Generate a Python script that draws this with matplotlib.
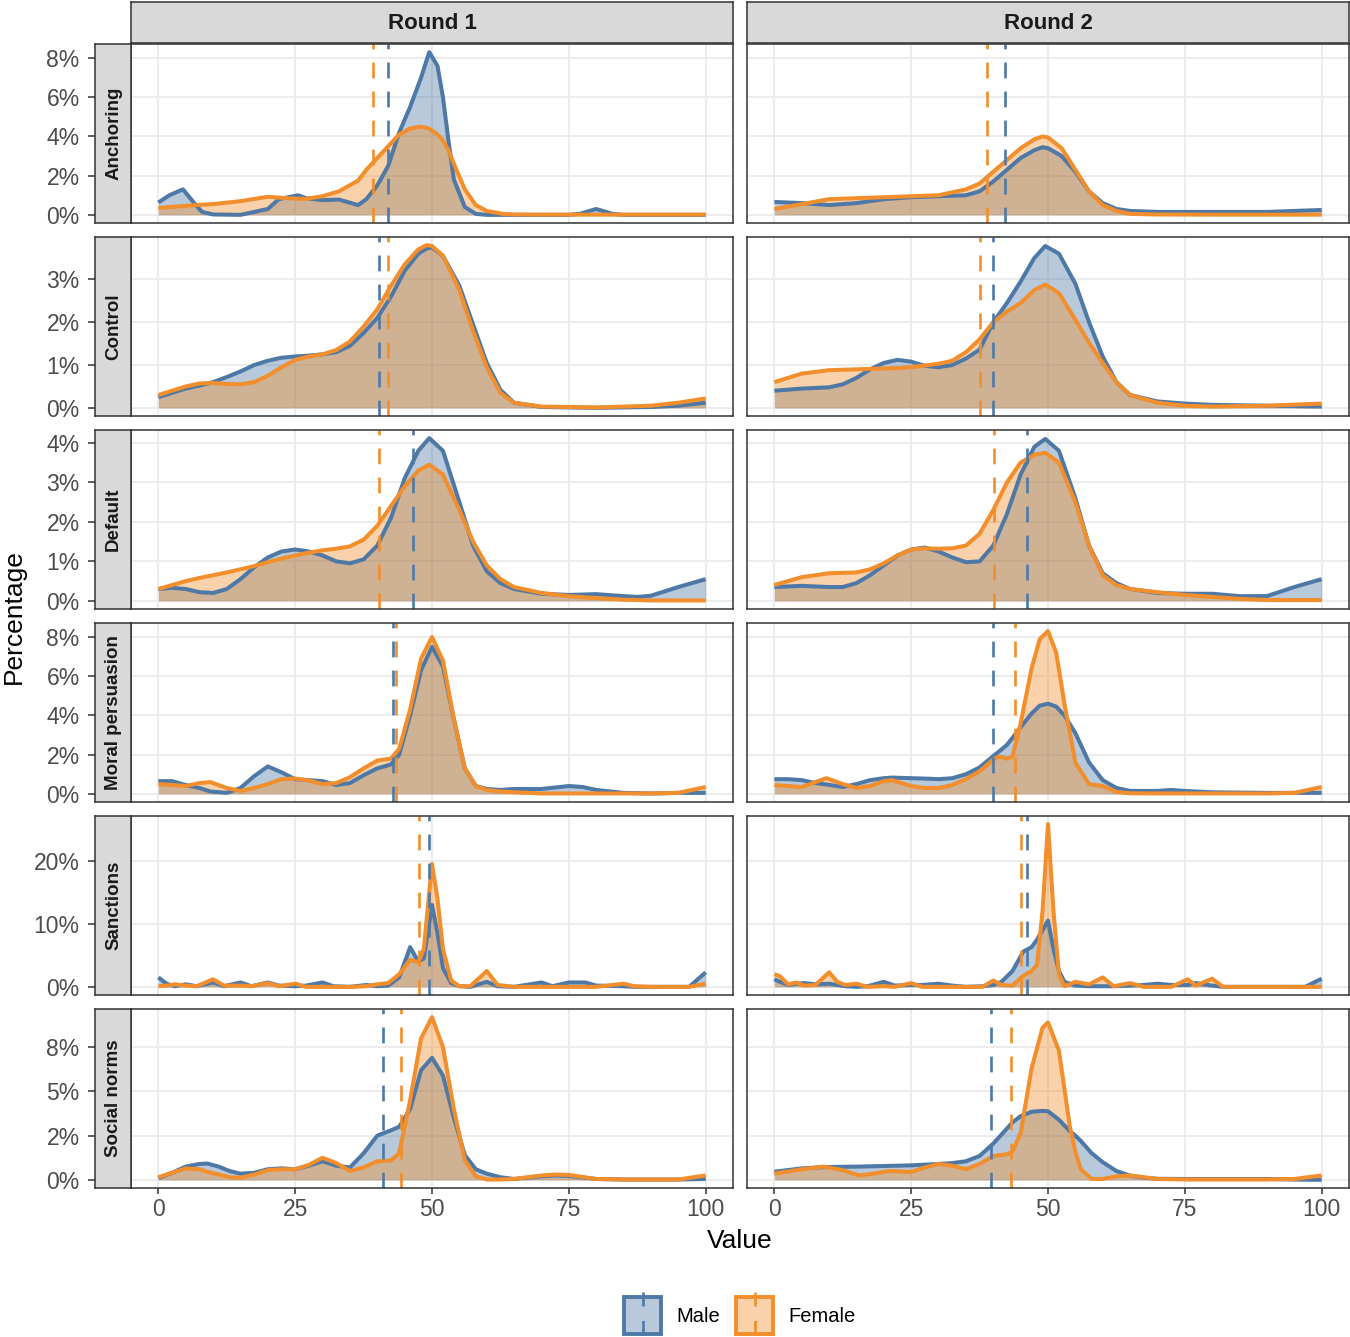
import numpy as np
import matplotlib
matplotlib.use("Agg")
import matplotlib.pyplot as plt
from matplotlib.patches import Rectangle

plt.rcParams['font.family'] = ['Liberation Sans', 'DejaVu Sans']

MALE = "#4E79A7"
FEMALE = "#F28E2B"

rows = ["Anchoring", "Control", "Default", "Moral persuasion", "Sanctions", "Social norms"]
rounds = ["Round 1", "Round 2"]

# ---- density curves, percent ----
anch_r1_x = [0, 2, 4.5, 7, 8, 10, 15, 20, 22, 25.5, 27, 30, 33, 36.5, 38, 40, 42, 44, 46, 48, 49.5, 51, 52, 53, 54, 56, 58, 60, 63, 65, 70, 75, 77, 80, 83, 85, 90, 100]
anch_r1_male = [0.63, 1.0, 1.3, 0.45, 0.15, 0.02, 0.0, 0.3, 0.8, 1.0, 0.85, 0.75, 0.78, 0.5, 0.8, 1.5, 2.5, 4.2, 5.5, 7.0, 8.3, 7.6, 6.0, 3.8, 1.8, 0.4, 0.05, 0.0, 0.0, 0.0, 0.0, 0.0, 0.05, 0.3, 0.05, 0.0, 0.0, 0.0]
anch_r1_female = [0.35, 0.4, 0.45, 0.5, 0.52, 0.55, 0.7, 0.92, 0.88, 0.82, 0.82, 0.95, 1.2, 1.75, 2.3, 2.9, 3.5, 4.1, 4.4, 4.5, 4.4, 4.1, 3.8, 3.3, 2.6, 1.3, 0.5, 0.2, 0.05, 0.02, 0.01, 0.01, 0.01, 0.01, 0.01, 0.01, 0.01, 0.01]

anch_r2_x = [0, 5, 10, 15, 20, 25, 30, 35, 37.5, 40, 42.5, 45, 47.5, 49, 50, 52.5, 55, 57.5, 60, 62.5, 65, 70, 80, 90, 100]
anch_r2_male = [0.66, 0.6, 0.5, 0.6, 0.8, 0.9, 0.95, 1.0, 1.2, 1.7, 2.3, 2.9, 3.3, 3.45, 3.4, 3.0, 2.2, 1.2, 0.6, 0.3, 0.2, 0.15, 0.15, 0.15, 0.25]
anch_r2_female = [0.3, 0.55, 0.8, 0.85, 0.9, 0.95, 1.0, 1.3, 1.6, 2.2, 2.8, 3.4, 3.85, 4.0, 3.95, 3.4, 2.3, 1.2, 0.5, 0.2, 0.05, 0.02, 0.01, 0.01, 0.01]

ctrl_r1_x = [0, 5, 7.5, 10, 12.5, 15, 17.5, 20, 22.5, 25, 27.5, 30, 32.5, 35, 37.5, 40, 42.5, 45, 47.5, 49, 50, 52, 55, 57.5, 60, 62.5, 65, 70, 80, 90, 95, 100]
ctrl_r1_male = [0.25, 0.45, 0.52, 0.6, 0.72, 0.85, 1.0, 1.1, 1.17, 1.2, 1.22, 1.25, 1.3, 1.45, 1.75, 2.1, 2.6, 3.2, 3.6, 3.72, 3.75, 3.55, 2.85, 1.95, 1.05, 0.42, 0.12, 0.02, 0.0, 0.02, 0.05, 0.12]
ctrl_r1_female = [0.3, 0.5, 0.57, 0.58, 0.56, 0.55, 0.6, 0.75, 0.95, 1.12, 1.2, 1.25, 1.35, 1.55, 1.9, 2.3, 2.85, 3.35, 3.7, 3.8, 3.78, 3.55, 2.75, 1.8, 0.95, 0.35, 0.12, 0.03, 0.01, 0.05, 0.12, 0.22]

ctrl_r2_x = [0, 5, 10, 12.5, 15, 17.5, 20, 22.5, 25, 27.5, 30, 32.5, 35, 37.5, 40, 42.5, 45, 47.5, 49.5, 52, 55, 57.5, 60, 62.5, 65, 70, 75, 80, 90, 100]
ctrl_r2_male = [0.4, 0.45, 0.48, 0.55, 0.7, 0.9, 1.05, 1.12, 1.08, 0.98, 0.95, 1.0, 1.15, 1.36, 2.0, 2.45, 2.95, 3.5, 3.78, 3.6, 2.9, 2.0, 1.2, 0.6, 0.3, 0.15, 0.1, 0.07, 0.05, 0.03]
ctrl_r2_female = [0.6, 0.8, 0.88, 0.89, 0.9, 0.91, 0.92, 0.93, 0.95, 0.99, 1.03, 1.1, 1.3, 1.6, 2.0, 2.25, 2.45, 2.75, 2.88, 2.68, 2.06, 1.52, 1.05, 0.6, 0.3, 0.12, 0.05, 0.03, 0.05, 0.1]

dflt_r1_x = [0, 2.5, 5, 7.5, 10, 12.5, 15, 17.5, 20, 22.5, 25, 27.5, 30, 32.5, 35, 37.5, 40, 42.5, 45, 47.5, 49.5, 52, 55, 57.5, 60, 62.5, 65, 70, 75, 80, 85, 87.5, 90, 95, 100]
dflt_r1_male = [0.3, 0.33, 0.3, 0.22, 0.2, 0.3, 0.55, 0.85, 1.1, 1.25, 1.3, 1.25, 1.15, 1.0, 0.95, 1.05, 1.4, 2.1, 3.1, 3.8, 4.12, 3.8, 2.5, 1.4, 0.75, 0.45, 0.3, 0.18, 0.15, 0.17, 0.12, 0.1, 0.13, 0.35, 0.55]
dflt_r1_female = [0.3, 0.4, 0.5, 0.58, 0.65, 0.72, 0.8, 0.88, 0.98, 1.07, 1.15, 1.22, 1.28, 1.32, 1.38, 1.55, 1.9, 2.4, 2.9, 3.3, 3.45, 3.2, 2.3, 1.5, 0.9, 0.55, 0.35, 0.2, 0.12, 0.07, 0.03, 0.02, 0.01, 0.01, 0.01]

dflt_r2_x = [0, 5, 10, 12.5, 15, 17.5, 20, 22.5, 25, 27.5, 30, 32.5, 35, 37.5, 40, 42.5, 45, 47.5, 49.5, 52, 55, 57.5, 60, 62.5, 65, 70, 75, 80, 85, 90, 95, 100]
dflt_r2_male = [0.35, 0.38, 0.35, 0.35, 0.45, 0.65, 0.9, 1.15, 1.3, 1.35, 1.25, 1.1, 0.98, 1.0, 1.4, 2.2, 3.2, 3.9, 4.1, 3.8, 2.6, 1.4, 0.7, 0.45, 0.3, 0.2, 0.18, 0.18, 0.12, 0.12, 0.35, 0.55]
dflt_r2_female = [0.4, 0.6, 0.7, 0.71, 0.72, 0.8, 0.95, 1.15, 1.3, 1.33, 1.32, 1.33, 1.4, 1.7, 2.3, 3.0, 3.5, 3.7, 3.75, 3.5, 2.5, 1.4, 0.65, 0.4, 0.3, 0.22, 0.15, 0.1, 0.05, 0.02, 0.02, 0.02]

moral_r1_x = [0, 2.5, 5, 7.5, 9.5, 12.5, 15, 17.5, 20, 22.5, 25, 27.5, 30, 32.5, 35, 37.5, 40, 42.5, 44, 46, 48, 50, 52, 54, 56, 58, 60, 62.5, 65, 70, 75, 77.5, 80, 85, 90, 95, 100]
moral_r1_male = [0.65, 0.65, 0.45, 0.3, 0.12, 0.05, 0.3, 0.9, 1.4, 1.1, 0.75, 0.7, 0.65, 0.45, 0.55, 0.95, 1.3, 1.5, 2.0, 4.0, 6.3, 7.5, 6.5, 3.8, 1.3, 0.4, 0.25, 0.2, 0.25, 0.25, 0.4, 0.35, 0.2, 0.05, 0.02, 0.05, 0.05]
moral_r1_female = [0.5, 0.45, 0.4, 0.55, 0.6, 0.3, 0.15, 0.3, 0.5, 0.75, 0.78, 0.68, 0.5, 0.55, 0.85, 1.3, 1.7, 1.8, 2.3, 4.3, 6.9, 8.0, 6.8, 3.8, 1.3, 0.4, 0.2, 0.12, 0.08, 0.02, 0.02, 0.02, 0.02, 0.02, 0.02, 0.05, 0.35]

moral_r2_x = [0, 2.5, 5, 7.5, 9.5, 12.5, 15, 17.5, 20, 21.5, 25, 27.5, 30, 32.5, 35, 37.5, 40, 41, 42.5, 43.5, 45, 47, 48.5, 50, 51.5, 53, 55, 57.5, 60, 62.5, 65, 70, 72.5, 75, 80, 90, 95, 100]
moral_r2_male = [0.75, 0.75, 0.7, 0.55, 0.48, 0.35, 0.5, 0.7, 0.8, 0.83, 0.8, 0.78, 0.75, 0.8, 1.0, 1.35, 1.93, 2.15, 2.5, 2.85, 3.4, 4.1, 4.5, 4.6, 4.45, 4.0, 3.1, 1.6, 0.7, 0.3, 0.15, 0.15, 0.2, 0.15, 0.08, 0.05, 0.05, 0.05]
moral_r2_female = [0.45, 0.4, 0.35, 0.6, 0.8, 0.5, 0.3, 0.4, 0.65, 0.7, 0.4, 0.3, 0.3, 0.45, 0.75, 1.15, 1.75, 1.9, 1.8, 1.9, 3.6, 6.4, 7.9, 8.3, 7.2, 4.6, 1.6, 0.5, 0.4, 0.1, 0.03, 0.02, 0.02, 0.02, 0.02, 0.02, 0.05, 0.35]

sanc_r1_x = [0, 1.5, 3, 5, 7, 10, 12, 15, 17, 20, 22, 25, 27, 30, 32, 35, 38, 40, 42, 44, 46, 47.5, 48.5, 50, 51, 52, 53.5, 55, 57, 60, 62, 65, 70, 72, 75, 78, 80, 85, 87, 90, 97, 100]
sanc_r1_male = [1.5, 0.5, 0.1, 0.4, 0.1, 0.7, 0.1, 0.7, 0.1, 0.7, 0.2, 0.1, 0.2, 0.7, 0.1, 0.0, 0.3, 0.1, 0.2, 1.5, 6.3, 4.0, 4.5, 13.0, 8.5, 3.0, 0.6, 0.1, 0.0, 0.8, 0.1, 0.0, 0.7, 0.1, 0.7, 0.7, 0.2, 0.1, 0.0, 0.0, 0.0, 2.3]
sanc_r1_female = [0.1, 0.2, 0.4, 0.2, 0.1, 1.2, 0.2, 0.2, 0.1, 0.6, 0.1, 0.5, 0.0, 0.0, 0.0, 0.0, 0.1, 0.4, 0.6, 2.0, 4.3, 3.9, 6.0, 19.5, 14.0, 6.0, 1.0, 0.1, 0.1, 2.5, 0.3, 0.0, 0.0, 0.0, 0.0, 0.0, 0.0, 0.5, 0.1, 0.0, 0.0, 0.5]

sanc_r2_x = [0, 1, 2.5, 4, 5.5, 7.5, 10, 11.5, 13, 15, 17, 20, 22, 25, 27, 30, 32.5, 35, 38, 40, 41.5, 43.5, 45.5, 47, 48, 49, 50, 51, 52, 53, 55, 57.5, 60, 62, 65, 67.5, 70, 72.5, 75.5, 77, 80, 82, 85, 90, 97, 100]
sanc_r2_male = [1.2, 0.8, 0.3, 0.5, 0.6, 0.4, 0.5, 0.3, 0.1, 0.0, 0.1, 0.8, 0.2, 0.3, 0.3, 0.5, 0.2, 0.0, 0.1, 0.3, 0.8, 2.5, 5.6, 6.3, 7.5, 9.0, 10.5, 6.0, 2.5, 0.8, 0.2, 0.1, 0.1, 0.1, 0.2, 0.3, 0.5, 0.3, 0.3, 0.6, 0.2, 0.0, 0.0, 0.0, 0.0, 1.3]
sanc_r2_female = [2.0, 1.7, 0.4, 0.7, 0.2, 0.3, 2.3, 0.8, 0.3, 0.5, 0.0, 0.1, 0.0, 0.6, 0.0, 0.0, 0.0, 0.0, 0.0, 1.0, 0.3, 0.2, 1.8, 2.5, 3.5, 12.0, 25.8, 12.0, 2.0, 0.1, 0.8, 0.4, 1.5, 0.1, 0.6, 0.0, 0.0, 0.0, 1.2, 0.2, 1.3, 0.0, 0.0, 0.0, 0.0, 0.0]

soc_r1_x = [0, 2.5, 5, 7.5, 9, 11, 13, 15, 17.5, 20, 22.5, 25, 27.5, 30, 32.5, 35, 37.5, 40, 42.5, 44, 46, 48, 50, 52, 54, 56, 58, 60, 62.5, 65, 70, 72.5, 75, 80, 85, 90, 95, 100]
soc_r1_male = [0.1, 0.4, 0.75, 0.9, 0.92, 0.75, 0.5, 0.35, 0.4, 0.6, 0.65, 0.6, 0.8, 1.05, 0.8, 0.7, 1.5, 2.5, 2.8, 3.0, 4.0, 6.2, 6.9, 5.9, 3.5, 1.4, 0.6, 0.35, 0.15, 0.05, 0.2, 0.25, 0.22, 0.05, 0.02, 0.02, 0.02, 0.05]
soc_r1_female = [0.15, 0.4, 0.65, 0.6, 0.45, 0.3, 0.15, 0.12, 0.3, 0.55, 0.6, 0.6, 0.85, 1.25, 0.95, 0.5, 0.7, 1.05, 1.1, 1.5, 4.5, 8.0, 9.2, 7.5, 4.0, 1.1, 0.2, 0.02, 0.02, 0.05, 0.25, 0.3, 0.28, 0.05, 0.02, 0.02, 0.02, 0.25]

soc_r2_x = [0, 5, 9, 12.5, 15.5, 18, 21, 25, 27.5, 30, 32.5, 35, 37.5, 40, 42.5, 43.5, 45, 47, 49, 50, 52, 54, 55, 56, 58, 60, 62.5, 65, 67.5, 70, 75, 80, 90, 95, 100]
soc_r2_male = [0.46, 0.65, 0.72, 0.74, 0.75, 0.77, 0.79, 0.82, 0.86, 0.9, 0.95, 1.05, 1.35, 2.05, 2.9, 3.25, 3.6, 3.85, 3.9, 3.88, 3.4, 2.75, 2.5, 2.2, 1.5, 1.0, 0.5, 0.24, 0.12, 0.06, 0.05, 0.05, 0.05, 0.02, 0.0]
soc_r2_female = [0.35, 0.6, 0.75, 0.55, 0.25, 0.35, 0.5, 0.45, 0.7, 0.9, 0.8, 0.6, 0.9, 1.35, 1.45, 1.6, 2.65, 6.3, 8.6, 8.9, 7.3, 3.0, 1.6, 0.6, 0.05, 0.05, 0.2, 0.25, 0.15, 0.05, 0.02, 0.02, 0.02, 0.05, 0.25]

# group means (dashed lines), one per row
mean_r1_male = [42.0, 40.4, 46.6, 42.9, 49.4, 41.0]
mean_r1_female = [39.2, 41.9, 40.4, 43.4, 47.6, 44.4]
mean_r2_male = [42.2, 40.0, 46.1, 40.0, 46.1, 39.5]
mean_r2_female = [38.9, 37.5, 40.1, 43.9, 45.1, 43.3]

ytick_vals = [[0, 2, 4, 6, 8], [0, 1, 2, 3], [0, 1, 2, 3, 4], [0, 2, 4, 6, 8], [0, 10, 20], [0, 2.5, 5, 7.5]]
ytick_labels = [["0%", "2%", "4%", "6%", "8%"], ["0%", "1%", "2%", "3%"], ["0%", "1%", "2%", "3%", "4%"],
                ["0%", "2%", "4%", "6%", "8%"], ["0%", "10%", "20%"], ["0%", "2%", "5%", "8%"]]
xtick_vals = [0, 25, 50, 75, 100]

curves = [
    [(anch_r1_x, anch_r1_male, anch_r1_female), (anch_r2_x, anch_r2_male, anch_r2_female)],
    [(ctrl_r1_x, ctrl_r1_male, ctrl_r1_female), (ctrl_r2_x, ctrl_r2_male, ctrl_r2_female)],
    [(dflt_r1_x, dflt_r1_male, dflt_r1_female), (dflt_r2_x, dflt_r2_male, dflt_r2_female)],
    [(moral_r1_x, moral_r1_male, moral_r1_female), (moral_r2_x, moral_r2_male, moral_r2_female)],
    [(sanc_r1_x, sanc_r1_male, sanc_r1_female), (sanc_r2_x, sanc_r2_male, sanc_r2_female)],
    [(soc_r1_x, soc_r1_male, soc_r1_female), (soc_r2_x, soc_r2_male, soc_r2_female)],
]
means = [(mean_r1_male, mean_r1_female), (mean_r2_male, mean_r2_female)]

# ---- layout (pixels) ----
W, H = 1350, 1337
fig = plt.figure(figsize=(W / 100, H / 100), dpi=100)


def box(l, t, r, b):
    return [l / W, 1 - b / H, (r - l) / W, (b - t) / H]


col_left = [131, 747]
panel_w = 602
row_top = [44, 237, 430, 623, 816, 1009]
panel_h = 179
strip_l = 95
DARK = "#333333"
TXT = "#4D4D4D"
DASH = (0, (6, 5))
LW = 2.9

for j, rnd in enumerate(rounds):
    sax = fig.add_axes(box(col_left[j], 2, col_left[j] + panel_w, 43))
    sax.set_facecolor("#D9D9D9")
    sax.set_xticks([])
    sax.set_yticks([])
    for s in sax.spines.values():
        s.set_color(DARK)
        s.set_linewidth(1.1)
    sax.text(0.5, 0.48, rnd, ha="center", va="center", fontsize=16, fontweight="bold",
             color="#1A1A1A", transform=sax.transAxes)

for i, row in enumerate(rows):
    ymax = max(max(curves[i][0][1]), max(curves[i][0][2]), max(curves[i][1][1]), max(curves[i][1][2]))
    ylim = (-0.05 * ymax, 1.05 * ymax)
    t = row_top[i]
    for j in range(2):
        x, male, female = curves[i][j]
        ax = fig.add_axes(box(col_left[j], t, col_left[j] + panel_w, t + panel_h))
        ax.set_xlim(-5, 105)
        ax.set_ylim(*ylim)
        ax.set_xticks(xtick_vals)
        ax.set_yticks(ytick_vals[i])
        ax.grid(True, color="#EBEBEB", lw=1.3)
        ax.set_axisbelow(True)
        ax.tick_params(axis="y", left=False, labelleft=False)
        if i == len(rows) - 1:
            ax.tick_params(axis="x", length=4.5, width=1.1, color=DARK, labelsize=16.5,
                           labelcolor=TXT, pad=3)
        else:
            ax.tick_params(axis="x", bottom=False, labelbottom=False)
        for s in ax.spines.values():
            s.set_color(DARK)
            s.set_linewidth(1.1)

        ax.fill_between(x, 0, male, color=MALE, alpha=0.4, lw=0)
        ax.plot(x, male, color=MALE, lw=LW, solid_joinstyle="round", solid_capstyle="butt")
        ax.fill_between(x, 0, female, color=FEMALE, alpha=0.4, lw=0)
        ax.plot(x, female, color=FEMALE, lw=LW, solid_joinstyle="round", solid_capstyle="butt")

        ax.axvline(means[j][0][i], color=MALE, lw=1.9, ls=DASH)
        ax.axvline(means[j][1][i], color=FEMALE, lw=1.9, ls=DASH)

    # left strip carrying the y axis
    lax = fig.add_axes(box(strip_l, t, col_left[0], t + panel_h))
    lax.set_facecolor("#D9D9D9")
    lax.set_ylim(*ylim)
    lax.set_xticks([])
    lax.set_yticks(ytick_vals[i])
    lax.set_yticklabels(ytick_labels[i])
    lax.tick_params(axis="y", length=5, width=1.1, color=DARK, labelsize=16.5, labelcolor=TXT, pad=6)
    for s in lax.spines.values():
        s.set_color(DARK)
        s.set_linewidth(1.1)
    lax.text(0.52, 0.5, row, rotation=90, ha="center", va="center", fontsize=13.5,
             fontweight="bold", color="#1A1A1A", transform=lax.transAxes)

# overlay for titles and legend
ov = fig.add_axes([0, 0, 1, 1])
ov.set_xlim(0, W)
ov.set_ylim(H, 0)
ov.axis("off")
ov.patch.set_alpha(0)
ov.text(14, 617, "Percentage", rotation=90, ha="center", va="center", fontsize=19)
ov.text(740, 1241, "Value", ha="center", va="center", fontsize=19)

for k, (lab, col) in enumerate([("Male", MALE), ("Female", FEMALE)]):
    kx = 624 + k * 112
    ov.add_patch(Rectangle((kx, 1297), 37, 37, facecolor=col, alpha=0.4, lw=0))
    ov.add_patch(Rectangle((kx, 1297), 37, 37, facecolor="none", edgecolor=col, lw=2.8))
    ov.plot([kx + 18.5, kx + 18.5], [1335, 1292], color=col, lw=1.9, ls=(0, (5.5, 5.5)))
    ov.text(kx + 52, 1316, lab, ha="left", va="center", fontsize=14.5)

fig.savefig("out.png", dpi=100)
